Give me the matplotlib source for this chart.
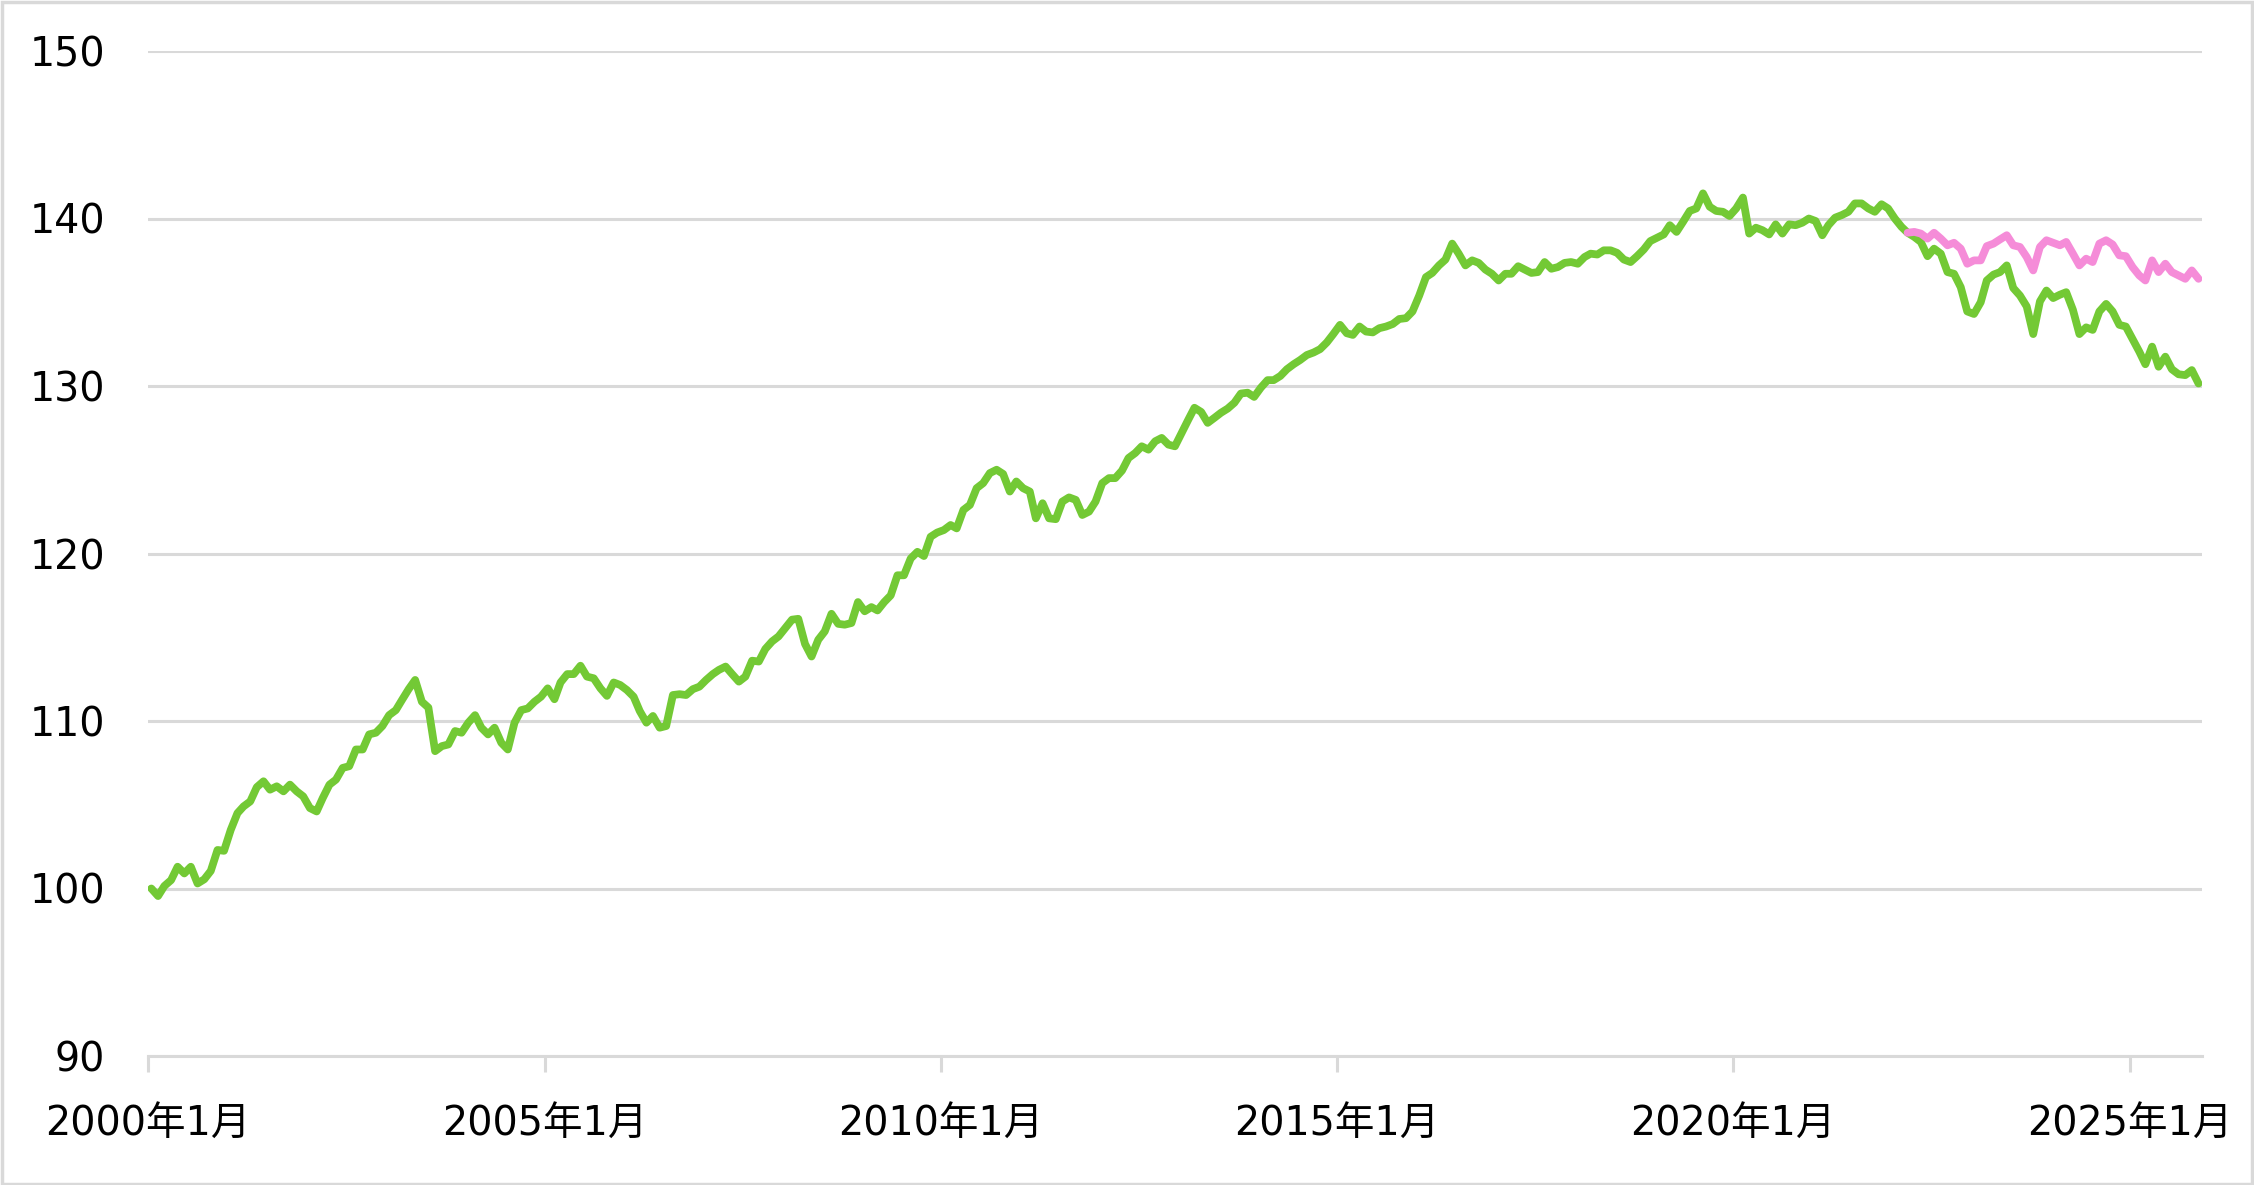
import matplotlib
matplotlib.use('Agg')
import matplotlib.pyplot as plt
import numpy as np
import pandas as pd
from matplotlib.patches import Rectangle

plt.rcParams['font.family'] = ['DejaVu Sans', 'Noto Sans CJK JP']

# 月次データ 2000年1月〜2025年11月
green = [
    100.0, 99.55, 100.15, 100.5, 101.3, 100.9, 101.3, 100.3, 100.55, 101.05, 102.3, 102.25,
    103.5, 104.5, 104.9, 105.2, 106.05, 106.4, 105.9, 106.1, 105.8, 106.2, 105.8, 105.5,
    104.8, 104.6, 105.4, 106.2, 106.5, 107.2, 107.3, 108.3, 108.3, 109.2, 109.3, 109.7,
    110.35, 110.65, 111.25, 111.9, 112.45, 111.15, 110.8, 108.2, 108.5, 108.6, 109.4, 109.3,
    109.9, 110.35, 109.6, 109.2, 109.6, 108.7, 108.3, 109.9, 110.65, 110.75, 111.15, 111.45,
    111.95, 111.3, 112.3, 112.8, 112.8, 113.3, 112.65, 112.55, 111.95, 111.5, 112.3, 112.15,
    111.85, 111.45, 110.6, 109.9, 110.3, 109.6, 109.7, 111.55, 111.6, 111.55, 111.9, 112.05,
    112.45, 112.8, 113.05, 113.25, 112.8, 112.35, 112.65, 113.6, 113.55, 114.3, 114.75, 115.05,
    115.55, 116.05, 116.1, 114.6, 113.85, 114.85, 115.35, 116.4, 115.8, 115.75, 115.85, 117.1,
    116.55, 116.8, 116.6, 117.1, 117.5, 118.7, 118.7, 119.7, 120.1, 119.85, 121.0, 121.25,
    121.4, 121.7, 121.5, 122.6, 122.9, 123.9, 124.2, 124.8, 125.0, 124.75, 123.7, 124.3,
    123.9, 123.7, 122.1, 123.0, 122.1, 122.05, 123.1, 123.35, 123.2, 122.3, 122.5, 123.1,
    124.2, 124.5, 124.5, 124.95, 125.7, 126.0, 126.4, 126.2, 126.7, 126.9, 126.5, 126.4,
    127.2, 128.0, 128.7, 128.45, 127.8, 128.1, 128.4, 128.65, 129.0, 129.55, 129.6, 129.35,
    129.9, 130.35, 130.35, 130.6, 131.0, 131.3, 131.55, 131.85, 132.0, 132.2, 132.6, 133.1,
    133.65, 133.15, 133.05, 133.55, 133.25, 133.2, 133.45, 133.55, 133.7, 134.0, 134.05, 134.45,
    135.4, 136.5, 136.75, 137.2, 137.55, 138.5, 137.9, 137.2, 137.5, 137.35, 136.95, 136.7,
    136.3, 136.7, 136.7, 137.15, 136.95, 136.75, 136.8, 137.4, 137.0, 137.1, 137.35, 137.4,
    137.3, 137.7, 137.9, 137.85, 138.1, 138.1, 137.95, 137.55, 137.4, 137.75, 138.15, 138.65,
    138.85, 139.05, 139.6, 139.2, 139.8, 140.45, 140.6, 141.5, 140.7, 140.45, 140.4, 140.15,
    140.6, 141.25, 139.1, 139.45, 139.3, 139.05, 139.65, 139.1, 139.65, 139.6, 139.75, 140.0,
    139.85, 139.0, 139.6, 140.05, 140.2, 140.4, 140.9, 140.9, 140.6, 140.4, 140.85, 140.6,
    140.0, 139.5, 139.15, 138.9, 138.6, 137.75, 138.2, 137.9, 136.8, 136.7, 135.9, 134.45,
    134.3, 135.0, 136.3, 136.65, 136.8, 137.2, 135.85, 135.4, 134.75, 133.1, 135.05, 135.7,
    135.25, 135.45, 135.6, 134.55, 133.1, 133.5, 133.35, 134.45, 134.9, 134.45, 133.65, 133.55,
    132.8, 132.05, 131.3, 132.35, 131.15, 131.75, 131.0, 130.7, 130.65, 130.95, 130.15,
]

# 2022年3月〜2025年11月
pink = [
    139.15, 139.2, 139.1, 138.8, 139.15, 138.8, 138.4, 138.55, 138.2, 137.3,
    137.5, 137.5, 138.35, 138.5, 138.75, 139.0, 138.4, 138.3, 137.7, 136.9,
    138.3, 138.7, 138.55, 138.4, 138.6, 137.9, 137.2, 137.6, 137.4, 138.5,
    138.7, 138.45, 137.8, 137.75, 137.1, 136.6, 136.3, 137.5, 136.8, 137.3,
    136.8, 136.6, 136.4, 136.9, 136.4,
]

green_start = '2000-01'
pink_start = '2022-03'
tick_years = [2000, 2005, 2010, 2015, 2020, 2025]
y_ticks = [90, 100, 110, 120, 130, 140, 150]

dates_g = pd.date_range(green_start, periods=len(green), freq='MS') + pd.Timedelta(days=14)
dates_p = pd.date_range(pink_start, periods=len(pink), freq='MS') + pd.Timedelta(days=14)

W, H = 2254, 1185
fig = plt.figure(figsize=(W / 100, H / 100), dpi=100)
ax = fig.add_axes([148.3 / W, 1 - 1056 / H, (2202 - 148.3) / W, (1056 - 51) / H])

grid_c = '#d9d9d9'
ax.plot(dates_g, green, color='#73C935', lw=5.6, solid_joinstyle='round',
        solid_capstyle='round', zorder=3)
ax.plot(dates_p, pink, color='#F58CD8', lw=5.6, solid_joinstyle='round',
        solid_capstyle='round', zorder=4)

ax.set_ylim(90, 150)
ax.set_yticks(y_ticks)
ax.set_xlim(pd.Timestamp('2000-01-01'), pd.Timestamp('2025-12-01'))
ax.set_xticks([pd.Timestamp(f'{y}-01-01') for y in tick_years])
ax.set_xticklabels([f'{y}年1月' for y in tick_years])

ax.grid(axis='y', color=grid_c, lw=2.2)
ax.set_axisbelow(True)
for s in ['top', 'right', 'left']:
    ax.spines[s].set_visible(False)
ax.spines['bottom'].set_color(grid_c)
ax.spines['bottom'].set_linewidth(2.2)

ax.tick_params(axis='y', length=0, pad=31, labelsize=28.5, labelcolor='black')
ax.tick_params(axis='x', length=11.5, width=2.2, color=grid_c, pad=23,
               labelsize=28.5, labelcolor='black')

# グラフ枠
fig.add_artist(Rectangle((0.001, 0.001), 0.998, 0.997, transform=fig.transFigure,
                         fill=False, edgecolor=grid_c, lw=2.5))

fig.savefig('out.png', dpi=100)
